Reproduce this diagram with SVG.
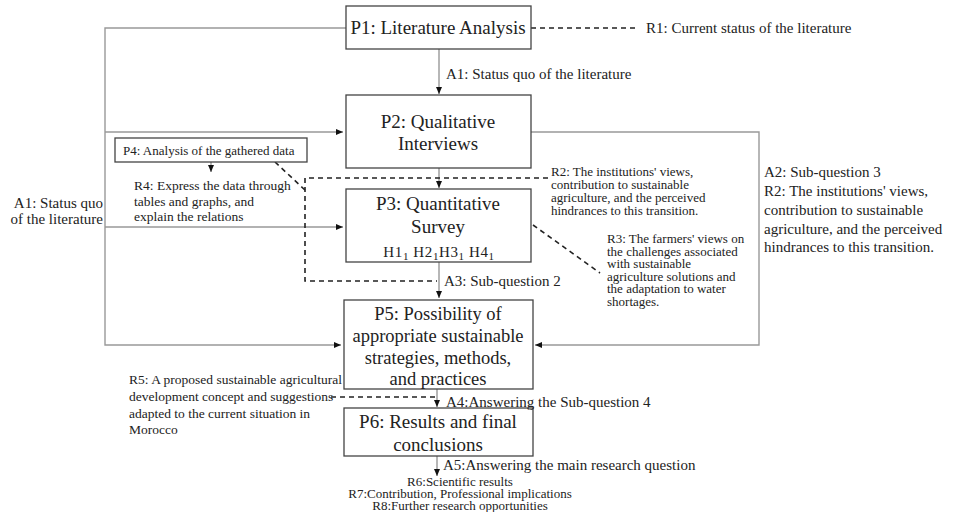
<svg xmlns="http://www.w3.org/2000/svg" width="955" height="512" viewBox="0 0 955 512">
<defs>
<marker id="ah" markerWidth="8" markerHeight="8" refX="7" refY="4" orient="auto" markerUnits="userSpaceOnUse">
<path d="M0,1 L7,4 L0,7 Z" fill="#111"/>
</marker>
<style>
text{font-family:"Liberation Serif","DejaVu Serif",serif;fill:#222}
.box{fill:#fff;stroke:#444;stroke-width:1.3}
.big{font-size:19px;text-anchor:middle}
.lab{font-size:15px}
.sm{font-size:13px}
.note{font-size:13.5px}
.con{fill:none;stroke:#999;stroke-width:1.4}
.dash{fill:none;stroke:#222;stroke-width:1.6;stroke-dasharray:5,4}
</style>
</defs>
<rect width="955" height="512" fill="#fff"/>

<g id="connectors">
<path class="con" d="M346,28 H105 V345 H341" marker-end="url(#ah)"/>
<path class="con" d="M105,132 H343" marker-end="url(#ah)"/>
<path class="con" d="M105,227 H343" marker-end="url(#ah)"/>
<path class="con" d="M531,132 H759 V345 H535" marker-end="url(#ah)"/>
<path class="con" d="M439,49 V94" marker-end="url(#ah)"/>
<path class="con" d="M439,168 V188" marker-end="url(#ah)"/>
<path class="con" d="M439,262 V298" marker-end="url(#ah)"/>
<path class="con" d="M437,389 V407" marker-end="url(#ah)"/>
<path class="con" d="M437,456 V476" marker-end="url(#ah)"/>
<path class="con" d="M211,162 V172" marker-end="url(#ah)"/>
<path class="dash" d="M531,28 H637"/>
<path class="dash" d="M548,178 H305 V281 H437"/>
<path class="dash" d="M275,162 L305,190"/>
<path class="dash" d="M533,225 L600,273"/>
<path class="dash" d="M331,397 H437"/>
</g>

<g id="p1">
<rect class="box" x="346" y="6" width="185" height="43"/>
<text class="big" x="438" y="34">P1: Literature Analysis</text>
</g>
<g id="p2">
<rect class="box" x="346" y="95" width="185" height="73"/>
<text class="big" x="438" y="128">P2: Qualitative</text>
<text class="big" x="438" y="150">Interviews</text>
</g>
<g id="p3">
<rect class="box" x="346" y="189" width="185" height="73"/>
<text class="big" x="438" y="210">P3: Quantitative</text>
<text class="big" x="438" y="233">Survey</text>
<text x="439" y="257" style="font-size:15px;text-anchor:middle;letter-spacing:0.6px">H1<tspan dy="3" font-size="11">1</tspan><tspan dy="-3"> H2</tspan><tspan dy="3" font-size="11">1</tspan><tspan dy="-3">H3</tspan><tspan dy="3" font-size="11">1</tspan><tspan dy="-3"> H4</tspan><tspan dy="3" font-size="11">1</tspan></text>
</g>
<g id="p4">
<rect class="box" x="115" y="138" width="192" height="24"/>
<text class="sm" x="123" y="155">P4: Analysis of the gathered data</text>
</g>
<g id="p5">
<rect class="box" x="344" y="300" width="189" height="89"/>
<text class="big" x="438" y="320" style="font-size:18.5px">P5: Possibility of</text>
<text class="big" x="438" y="342" style="font-size:18.5px">appropriate sustainable</text>
<text class="big" x="438" y="364" style="font-size:18.5px">strategies, methods,</text>
<text class="big" x="438" y="385" style="font-size:18.5px">and practices</text>
</g>
<g id="p6">
<rect class="box" x="344" y="408" width="189" height="48"/>
<text class="big" x="438" y="428">P6: Results and final</text>
<text class="big" x="438" y="451">conclusions</text>
</g>

<g id="labels">
<text class="lab" x="646" y="33">R1: Current status of the literature</text>
<text class="lab" x="446" y="79">A1: Status quo of the literature</text>
<text class="lab" x="103" y="208" text-anchor="end">A1: Status quo</text>
<text class="lab" x="103" y="224" text-anchor="end">of the literature</text>
<text class="note" x="134" y="190">R4: Express the data through</text>
<text class="note" x="134" y="206">tables and graphs, and</text>
<text class="note" x="134" y="221">explain the relations</text>
<text class="sm" x="551" y="176">R2: The institutions' views,</text>
<text class="sm" x="551" y="189">contribution to sustainable</text>
<text class="sm" x="551" y="202">agriculture, and the perceived</text>
<text class="sm" x="551" y="215">hindrances to this transition.</text>
<text class="lab" x="764" y="177">A2: Sub-question 3</text>
<text class="lab" x="764" y="196">R2: The institutions' views,</text>
<text class="lab" x="764" y="215">contribution to sustainable</text>
<text class="lab" x="764" y="234">agriculture, and the perceived</text>
<text class="lab" x="764" y="252">hindrances to this transition.</text>
<text class="sm" x="607" y="243">R3: The farmers' views on</text>
<text class="sm" x="607" y="256">the challenges associated</text>
<text class="sm" x="607" y="268">with sustainable</text>
<text class="sm" x="607" y="281">agriculture solutions and</text>
<text class="sm" x="607" y="293">the adaptation to water</text>
<text class="sm" x="607" y="306">shortages.</text>
<text class="lab" x="444" y="286">A3: Sub-question 2</text>
<text class="note" x="129" y="384">R5: A proposed sustainable agricultural</text>
<text class="note" x="129" y="401">development concept and suggestions</text>
<text class="note" x="129" y="418">adapted to the current situation in</text>
<text class="note" x="129" y="434">Morocco</text>
<text class="lab" x="446" y="407">A4:Answering the Sub-question 4</text>
<text class="lab" x="443" y="470">A5:Answering the main research question</text>
<text class="sm" x="460" y="486" text-anchor="middle">R6:Scientific results</text>
<text class="sm" x="460" y="498" text-anchor="middle">R7:Contribution, Professional implications</text>
<text class="sm" x="460" y="510" text-anchor="middle">R8:Further research opportunities</text>
</g>
</svg>
